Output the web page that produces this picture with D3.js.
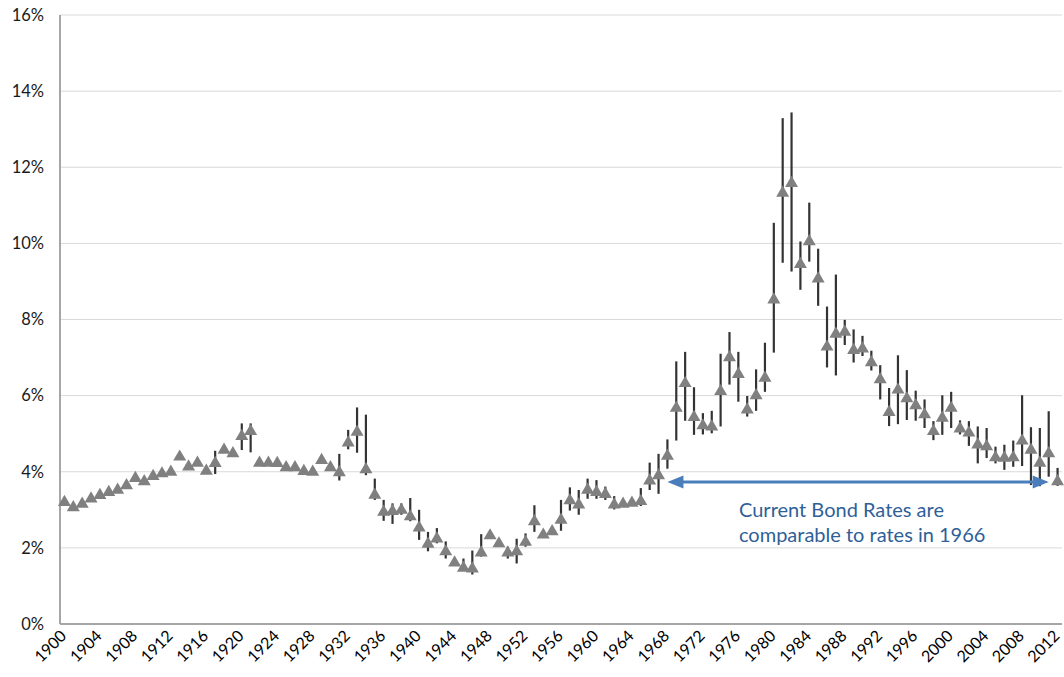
<!DOCTYPE html>
<html>
<head>
<meta charset="utf-8">
<script src="https://cdn.jsdelivr.net/npm/d3@7"></script>
<style>
  body { margin: 0; background: #fff; }
  text { font-family: Lato, "Open Sans", sans-serif; }
</style>
</head>
<body>
<script>
// years on the category axis
const years = d3.range(1900, 2013);

// yearly bond rate (%)
const rate = [
  3.24, 3.10, 3.19, 3.33, 3.42, 3.50, 3.56, 3.68, 3.87, 3.78,
  3.92, 3.99, 4.03, 4.43, 4.17, 4.27, 4.06, 4.26, 4.61, 4.52,
  4.97, 5.10, 4.27, 4.27, 4.26, 4.15, 4.15, 4.05, 4.03, 4.34,
  4.15, 4.02, 4.80, 5.08, 4.10, 3.43, 2.98, 3.00, 3.03, 2.86,
  2.57, 2.14, 2.28, 1.94, 1.65, 1.51, 1.49, 1.91, 2.36, 2.15,
  1.91, 1.94, 2.19, 2.73, 2.38, 2.47, 2.77, 3.28, 3.17, 3.56,
  3.50, 3.45, 3.17, 3.19, 3.22, 3.26, 3.80, 3.94, 4.45, 5.71,
  6.36, 5.47, 5.25, 5.22, 6.15, 7.04, 6.60, 5.67, 6.04, 6.50,
  8.56, 11.36, 11.62, 9.49, 10.09, 9.11, 7.32, 7.66, 7.71, 7.23,
  7.27, 6.91, 6.46, 5.60, 6.19, 5.96, 5.78, 5.54, 5.10, 5.45,
  5.71, 5.17, 5.06, 4.75, 4.70, 4.41, 4.40, 4.41, 4.85, 4.61,
  4.27, 4.52, 3.78
];

// yearly high and low (%), null where the range hides behind the marker
const high = [
  null, null, null, null, null, null, null, null, null, null,
  null, null, null, null, null, null, null, 4.55, null, null,
  5.27, 5.27, null, null, null, null, null, null, null, null,
  null, 4.47, 5.10, 5.69, 5.50, 3.82, 3.26, 3.17, 3.17, 3.31,
  3.00, 2.42, 2.52, 2.17, null, 1.72, 1.93, 2.36, null, null,
  2.03, 2.24, 2.38, 3.12, null, null, 3.26, 3.59, 3.52, 3.82,
  3.78, 3.61, 3.36, null, null, 3.57, 4.24, 4.47, 4.85, 6.90,
  7.15, 6.22, 5.54, 5.60, 7.10, 7.67, 7.15, 5.99, 6.69, 7.39,
  10.54, 13.29, 13.44, 10.05, 11.07, 9.86, 8.34, 9.18, 7.99, 7.74,
  7.57, 7.18, 6.80, 6.20, 7.06, 6.67, 6.13, 5.90, 5.33, 6.01,
  6.10, 5.35, 5.33, 5.19, 5.15, 4.66, 4.71, 4.82, 6.01, 5.17,
  5.15, 5.59, 4.10
];
const low = [
  null, null, null, null, null, null, null, null, null, null,
  null, null, null, null, null, null, null, 3.94, null, null,
  4.57, 4.51, null, null, null, null, null, null, null, null,
  null, 3.77, 4.59, 4.50, 3.91, 3.26, 2.71, 2.63, 2.87, 2.70,
  2.21, 1.91, 2.12, 1.72, null, 1.42, 1.30, 1.77, null, null,
  1.72, 1.59, 2.03, 2.42, null, null, 2.45, 2.98, 2.87, 3.29,
  3.29, 3.26, 3.01, null, null, 3.10, 3.52, 3.42, 4.08, 4.82,
  5.34, 4.97, 4.98, 5.01, 5.19, 6.29, 5.84, 5.45, 5.60, 6.10,
  7.13, 9.49, 9.26, 8.78, 9.52, 8.36, 6.74, 6.53, 7.33, 6.87,
  7.04, 6.66, 5.90, 5.20, 5.25, 5.36, 5.34, 5.15, 4.83, 4.97,
  5.15, 4.98, 4.68, 4.22, 4.36, 4.22, 4.05, 4.13, 4.15, 3.65,
  3.62, 3.87, 3.63
];

const yTicks = [0, 2, 4, 6, 8, 10, 12, 14, 16];
const xLabels = years.filter(y => (y - 1900) % 4 === 0);

const note = ["Current Bond Rates are", "comparable to rates in 1966"];
const arrowFrom = 1968, arrowTo = 2011, arrowAt = 3.73;

const width = 1064, height = 677;
const margin = { top: 15, right: 2, bottom: 53, left: 60 };

const svg = d3.select('body').append('svg')
  .attr('width', width)
  .attr('height', height);

const x = d3.scaleBand()
  .domain(years)
  .range([margin.left, width - margin.right]);

const y = d3.scaleLinear()
  .domain([0, 16])
  .range([height - margin.bottom, margin.top]);

const cx = d => x(d) + x.bandwidth() / 2;

// gridlines
svg.append('g')
  .selectAll('line')
  .data(yTicks.slice(1))
  .enter().append('line')
  .attr('x1', margin.left).attr('x2', width - margin.right)
  .attr('y1', d => y(d)).attr('y2', d => y(d))
  .attr('stroke', '#d9d9d9')
  .attr('stroke-width', 1);

// y axis labels
svg.append('g')
  .selectAll('text')
  .data(yTicks)
  .enter().append('text')
  .attr('x', 44)
  .attr('y', d => y(d))
  .attr('dy', '0.35em')
  .attr('text-anchor', 'end')
  .attr('font-size', 16.5)
  .attr('fill', '#1a1a1a')
  .text(d => d + '%');

// axis lines
svg.append('line')
  .attr('x1', margin.left).attr('x2', margin.left)
  .attr('y1', y(16)).attr('y2', y(0))
  .attr('stroke', '#a6a6a6').attr('stroke-width', 2);
svg.append('line')
  .attr('x1', margin.left).attr('x2', width - margin.right)
  .attr('y1', y(0)).attr('y2', y(0))
  .attr('stroke', '#a6a6a6').attr('stroke-width', 2);

// x axis labels, rotated
svg.append('g')
  .selectAll('text')
  .data(xLabels)
  .enter().append('text')
  .attr('transform', d => `translate(${cx(d) + 3},${y(0) + 13}) rotate(-45)`)
  .attr('text-anchor', 'end')
  .attr('font-size', 16)
  .attr('fill', '#000')
  .text(d => d);

// high-low lines
const ranges = years.map((yr, i) => ({ yr, hi: high[i], lo: low[i] }))
  .filter(d => d.hi !== null);

svg.append('g')
  .selectAll('line')
  .data(ranges)
  .enter().append('line')
  .attr('x1', d => cx(d.yr)).attr('x2', d => cx(d.yr))
  .attr('y1', d => y(d.hi)).attr('y2', d => y(d.lo))
  .attr('stroke', '#333')
  .attr('stroke-width', 2.2);

// triangle markers
svg.append('g')
  .selectAll('path')
  .data(years.map((yr, i) => ({ yr, v: rate[i] })))
  .enter().append('path')
  .attr('d', 'M0,-6L6.5,5.2L-6.5,5.2Z')
  .attr('transform', d => `translate(${cx(d.yr)},${y(d.v)})`)
  .attr('fill', '#808080');

// double-headed arrow
const ax1 = cx(arrowFrom), ax2 = cx(arrowTo), ay = y(arrowAt);
const head = 16, half = 6.5;
svg.append('line')
  .attr('x1', ax1 + head - 2).attr('x2', ax2 - head + 2)
  .attr('y1', ay).attr('y2', ay)
  .attr('stroke', '#4a7ebb').attr('stroke-width', 3);
svg.append('path')
  .attr('d', `M${ax1},${ay}L${ax1 + head},${ay - half}L${ax1 + head},${ay + half}Z`)
  .attr('fill', '#4a7ebb');
svg.append('path')
  .attr('d', `M${ax2},${ay}L${ax2 - head},${ay - half}L${ax2 - head},${ay + half}Z`)
  .attr('fill', '#4a7ebb');

// annotation
svg.append('g')
  .selectAll('text')
  .data(note)
  .enter().append('text')
  .attr('x', 739)
  .attr('y', (d, i) => 517 + i * 25)
  .attr('font-size', 20)
  .attr('fill', '#2f5f98')
  .text(d => d);
</script>
</body>
</html>
